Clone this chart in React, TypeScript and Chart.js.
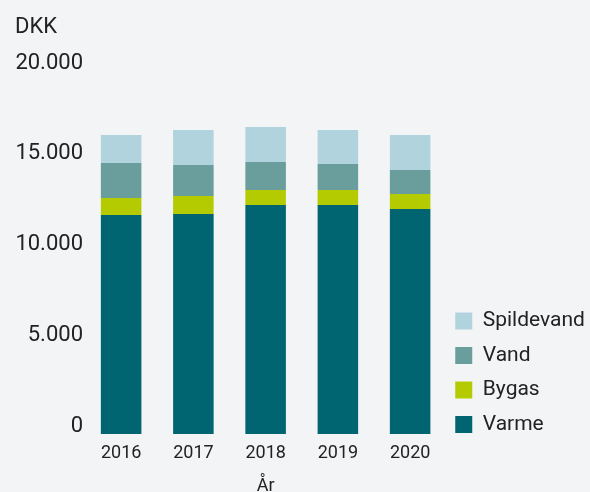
import React, { useEffect, useRef } from 'react';
import { Chart, registerables } from 'chart.js';

Chart.register(...registerables);

const years = ['2016', '2017', '2018', '2019', '2020'];
const varme = [12050, 12110, 12600, 12600, 12380];
const bygas = [940, 990, 830, 830, 830];
const vand = [1920, 1700, 1540, 1430, 1320];
const spildevand = [1550, 1930, 1930, 1870, 1930];

const yTickValues = [0, 5000, 10000, 15000, 20000];
const yTickLabels = ['0', '5.000', '10.000', '15.000', '20.000'];

const BG = '#f3f4f6';
const TEXT = '#222222';
const FAMILY = 'Roboto, "Noto Sans", sans-serif';

// moves the (non full-size) legend block down so that it ends just below the plot bottom
const legendDrop = {
  id: 'legendDrop',
  afterLayout(chart: any) {
    const l = chart.legend;
    if (l) {
      l.top += 14.5;
      l.bottom += 14.5;
    }
  },
};

export default function App() {
  const ref = useRef<HTMLCanvasElement>(null);

  useEffect(() => {
    document.body.style.margin = '0';
    document.body.style.background = BG;
    const canvas = ref.current!;
    const chart = new Chart(canvas, {
      type: 'bar',
      data: {
        labels: years,
        datasets: [
          { label: 'Varme', data: varme, backgroundColor: '#006570' },
          { label: 'Bygas', data: bygas, backgroundColor: '#b3cb00' },
          { label: 'Vand', data: vand, backgroundColor: '#6a9e9c' },
          { label: 'Spildevand', data: spildevand, backgroundColor: '#b1d3dd' },
        ],
      },
      plugins: [legendDrop],
      options: {
        animation: false,
        responsive: false,
        devicePixelRatio: 1,
        datasets: { bar: { barPercentage: 0.561, categoryPercentage: 1, borderWidth: 0 } },
        layout: { padding: { left: 15, right: 0, top: 0, bottom: 0 } },
        plugins: {
          tooltip: { enabled: false },
          title: {
            display: true,
            text: 'DKK',
            align: 'start',
            color: TEXT,
            font: { family: FAMILY, size: 22, weight: '400' as any },
            padding: { top: 14, bottom: 30.2 },
          },
          legend: {
            position: 'right',
            align: 'end',
            reverse: true,
            fullSize: false,
            labels: {
              boxWidth: 17,
              boxHeight: 17,
              padding: 9,
              color: TEXT,
              font: { family: FAMILY, size: 21, weight: '400' as any, lineHeight: '25.5px' as any },
              generateLabels: (c: any) => {
                const items = (Chart.defaults.plugins.legend.labels as any).generateLabels(c);
                return items.map((it: any) => ({ ...it, text: [it.text], lineWidth: 0 }));
              },
            },
          },
        },
        scales: {
          x: {
            stacked: true,
            grid: { display: false, drawTicks: false },
            border: { display: false },
            ticks: { color: TEXT, padding: 8.7, font: { family: FAMILY, size: 18, weight: '400' as any } },
            title: {
              display: true,
              text: 'År',
              color: TEXT,
              font: { family: FAMILY, size: 18, weight: '400' as any },
              padding: { top: 0, bottom: -4.8 },
            },
            afterFit: (s: any) => {
              s.height = 58;
            },
          },
          y: {
            stacked: true,
            min: 0,
            max: 20000,
            grid: { display: false, drawTicks: false },
            border: { display: false },
            afterBuildTicks: (s: any) => {
              s.ticks = yTickValues.map((v) => ({ value: v }));
            },
            ticks: {
              color: TEXT,
              padding: 2,
              labelOffset: -7.5,
              font: { family: FAMILY, size: 22, weight: '400' as any },
              callback: (v: any) => {
                const i = yTickValues.indexOf(Number(v));
                return i >= 0 ? yTickLabels[i] : '';
              },
            },
            afterFit: (s: any) => {
              s.width = 70;
            },
          },
        },
      },
    });
    return () => chart.destroy();
  }, []);

  return (
    <div style={{ width: 590, height: 492, background: BG, overflow: 'hidden' }}>
      <canvas ref={ref} width={590} height={492} style={{ display: 'block', width: 590, height: 492 }} />
    </div>
  );
}
